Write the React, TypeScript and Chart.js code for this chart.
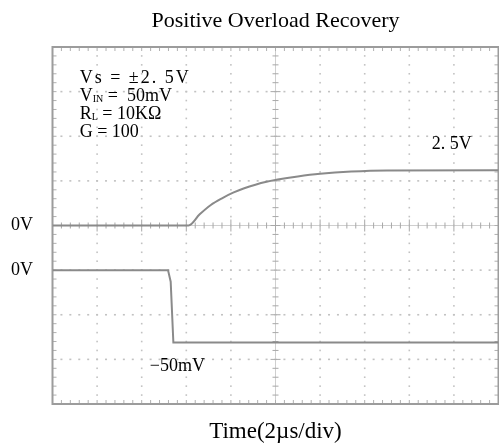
import React, { useEffect, useRef } from "react";
import { Chart, registerables } from "chart.js";

Chart.register(...registerables);

// ---- text ----
const TITLE = "Positive Overload Recovery";
const X_TITLE = "Time(2µs/div)";

// ---- scope scales ----
const US_PER_DIV = 2; // horizontal: 2 µs per division
const X_DIVS = 10;
const Y_DIVS = 8;
const OUT_V_PER_DIV = 2; // output trace: 2 V per division, 0 V at centre
const IN_MV_PER_DIV = 30.8; // input trace: mV per division
const IN_ZERO_DIV = -1; // input trace 0 V is one division below centre

// ---- output trace (V) ----
const outTimeUs = [0, 6.1, 6.6, 7.1, 7.6, 8.1, 8.6, 9.1, 9.6, 10.1, 11.0, 12.0, 13.4, 15.0, 20];
const outVolts = [0, 0, 0.5, 0.92, 1.22, 1.47, 1.67, 1.83, 1.96, 2.06, 2.2, 2.32, 2.42, 2.47, 2.48];

// ---- input trace (mV) ----
const inTimeUs = [0, 5.18, 5.3, 5.42, 20];
const inMilliVolts = [0, 0, -8, -50, -50];

// ---- annotation texts ----
const paramLines = ["Vs = ±2. 5V", "V|IN| =  50mV", "R|L| = 10KΩ", "G = 100"];
const paramSpacing = [2, 0, 0, 0];
const outZeroLabel = "0V";
const inZeroLabel = "0V";
const outFinalLabel = "2. 5V";
const inStepLabel = "−50mV";

const SERIF = "'Liberation Serif', 'Times New Roman', serif";

const toOutDiv = (v: number) => v / OUT_V_PER_DIV;
const toInDiv = (mv: number) => IN_ZERO_DIV + mv / IN_MV_PER_DIV;

const scopePlugin = {
  id: "scopeGrid",
  beforeDatasetsDraw(chart: any) {
    const { ctx, chartArea: a, scales } = chart;
    const xs = scales.x;
    const ys = scales.y;
    const dx = (a.right - a.left) / X_DIVS;
    const dy = (a.bottom - a.top) / Y_DIVS;
    ctx.save();
    // dotted graticule
    ctx.fillStyle = "#c2c2c2";
    for (let i = 1; i < X_DIVS; i++) {
      if (i === X_DIVS / 2) continue;
      const px = xs.getPixelForValue(i * US_PER_DIV);
      for (let k = 1; k < Y_DIVS * 5; k++) {
        const py = a.top + (k * dy) / 5;
        ctx.fillRect(px - 0.8, py - 0.8, 1.6, 1.6);
      }
    }
    for (let j = -Y_DIVS / 2 + 1; j < Y_DIVS / 2; j++) {
      if (j === 0) continue;
      const py = ys.getPixelForValue(j);
      for (let k = 1; k < X_DIVS * 5; k++) {
        const px = a.left + (k * dx) / 5;
        ctx.fillRect(px - 1, py - 0.8, 2, 1.6);
      }
    }
    // centre cross
    const cx = xs.getPixelForValue((X_DIVS / 2) * US_PER_DIV);
    const cy = ys.getPixelForValue(0);
    ctx.strokeStyle = "#cfcfcf";
    ctx.lineWidth = 1;
    ctx.beginPath();
    ctx.moveTo(cx, a.top);
    ctx.lineTo(cx, a.bottom);
    ctx.moveTo(a.left, cy);
    ctx.lineTo(a.right, cy);
    ctx.stroke();
    ctx.strokeStyle = "#a8a8a8";
    ctx.beginPath();
    for (let k = 1; k < Y_DIVS * 5; k++) {
      const py = a.top + (k * dy) / 5;
      const len = k % 5 === 0 ? 5 : 3;
      ctx.moveTo(cx - len, py);
      ctx.lineTo(cx + len, py);
    }
    for (let k = 1; k < X_DIVS * 5; k++) {
      const px = a.left + (k * dx) / 5;
      const len = k % 5 === 0 ? 6 : 3;
      ctx.moveTo(px, cy - len);
      ctx.lineTo(px, cy + len);
    }
    ctx.stroke();
    // border ticks
    ctx.strokeStyle = "#b0b0b0";
    ctx.beginPath();
    for (let k = 1; k < X_DIVS * 5; k++) {
      const px = a.left + (k * dx) / 5;
      ctx.moveTo(px, a.top);
      ctx.lineTo(px, a.top + 4);
      ctx.moveTo(px, a.bottom);
      ctx.lineTo(px, a.bottom - 4);
    }
    for (let k = 1; k < Y_DIVS * 5; k++) {
      const py = a.top + (k * dy) / 5;
      ctx.moveTo(a.left, py);
      ctx.lineTo(a.left + 4, py);
      ctx.moveTo(a.right, py);
      ctx.lineTo(a.right - 4, py);
    }
    ctx.stroke();
    // border
    ctx.strokeStyle = "#9c9c9c";
    ctx.lineWidth = 2;
    ctx.strokeRect(a.left, a.top, a.right - a.left, a.bottom - a.top);
    ctx.restore();
  },
  afterDatasetsDraw(chart: any) {
    const { ctx, scales } = chart;
    const xs = scales.x;
    const ys = scales.y;
    ctx.save();
    ctx.fillStyle = "#000";
    ctx.textBaseline = "middle";
    const drawSub = (line: string, x: number, y: number, size: number, spacing: number) => {
      const parts = line.split("|");
      let cur = x;
      (ctx as any).letterSpacing = `${spacing}px`;
      parts.forEach((p, i) => {
        const sub = i % 2 === 1;
        ctx.font = `${sub ? Math.round(size * 0.55) : size}px ${SERIF}`;
        ctx.fillText(p, cur, sub ? y + size * 0.18 : y);
        cur += ctx.measureText(p).width;
      });
      (ctx as any).letterSpacing = "0px";
    };
    ctx.textAlign = "left";
    const px0 = xs.getPixelForValue(1.22);
    paramLines.forEach((line, i) => {
      const py = ys.getPixelForValue(3.3 - i * 0.4);
      drawSub(line, px0, py, 18, paramSpacing[i]);
    });
    ctx.font = `18px ${SERIF}`;
    ctx.textAlign = "center";
    ctx.fillText(outZeroLabel, 22, ys.getPixelForValue(toOutDiv(0)));
    ctx.fillText(inZeroLabel, 22, ys.getPixelForValue(toInDiv(0)));
    ctx.fillText(outFinalLabel, xs.getPixelForValue(17.9), ys.getPixelForValue(1.83));
    ctx.fillText(inStepLabel, xs.getPixelForValue(5.6), ys.getPixelForValue(-3.15));
    ctx.restore();
  },
};

export default function App() {
  const ref = useRef<HTMLCanvasElement | null>(null);
  useEffect(() => {
    if (!ref.current) return;
    const chart = new Chart(ref.current, {
      type: "line",
      data: {
        datasets: [
          {
            label: "Output",
            data: outTimeUs.map((t, i) => ({ x: t, y: toOutDiv(outVolts[i]) })),
            borderColor: "#8a8a8a",
            borderWidth: 2,
            pointRadius: 0,
            cubicInterpolationMode: "monotone",
          },
          {
            label: "Input",
            data: inTimeUs.map((t, i) => ({ x: t, y: toInDiv(inMilliVolts[i]) })),
            borderColor: "#8a8a8a",
            borderWidth: 2,
            pointRadius: 0,
            tension: 0,
          },
        ],
      },
      options: {
        responsive: false,
        animation: false,
        devicePixelRatio: 1,
        layout: { padding: { left: 52.5, right: 0.5, top: 0, bottom: 0 } },
        plugins: {
          legend: { display: false },
          tooltip: { enabled: false },
          title: {
            display: true,
            text: TITLE,
            color: "#000",
            font: { family: SERIF, size: 22, weight: "normal" },
            padding: { top: 8, bottom: 12.6 },
          },
        },
        scales: {
          x: {
            type: "linear",
            min: 0,
            max: X_DIVS * US_PER_DIV,
            grid: { display: false, drawTicks: false },
            border: { display: false },
            ticks: { display: false },
            title: {
              display: true,
              text: X_TITLE,
              color: "#000",
              font: { family: SERIF, size: 23, weight: "normal" },
              padding: { top: 14.4, bottom: 0 },
            },
          },
          y: {
            type: "linear",
            display: false,
            min: -Y_DIVS / 2,
            max: Y_DIVS / 2,
          },
        },
      },
      plugins: [scopePlugin],
    });
    return () => chart.destroy();
  }, []);
  return (
    <div style={{ position: "absolute", left: 0, top: 0, width: 499, height: 446, background: "#fff" }}>
      <canvas ref={ref} width={499} height={446} />
    </div>
  );
}
